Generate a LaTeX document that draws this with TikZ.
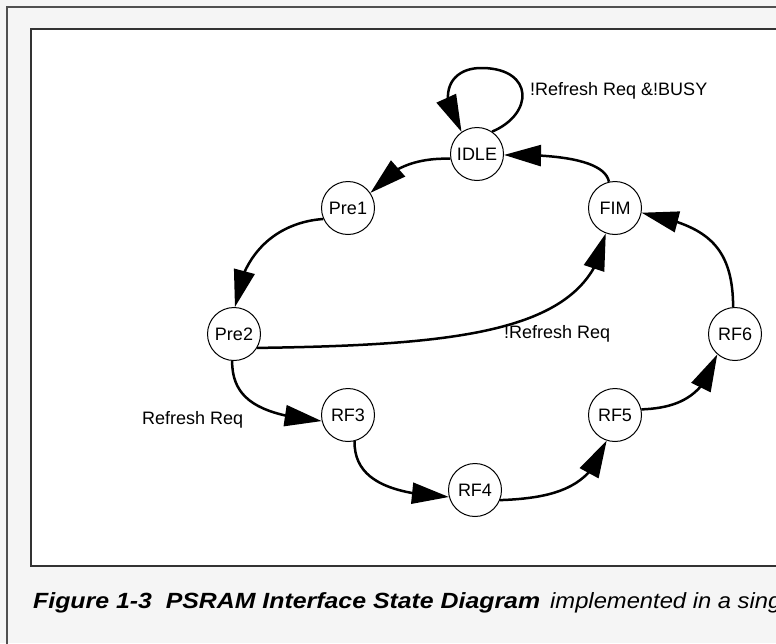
\documentclass[tikz,border=0pt]{standalone}
\usepackage{fontspec}
\setmainfont{Liberation Sans}
\usetikzlibrary{arrows.meta,bending}
\definecolor{pagegray}{HTML}{F5F5F5}
\definecolor{framegray}{HTML}{505050}
\begin{document}
\begin{tikzpicture}[x=1pt,y=-1pt,
  state/.style={circle,draw=black,line width=1pt,fill=white,minimum size=53pt,inner sep=0pt,font=\fontsize{18}{20}\selectfont},
  trans/.style={line width=2.5pt,-{Triangle[length=37pt,width=21pt,flex]}},
  lbl/.style={font=\fontsize{18}{20}\selectfont,inner sep=0pt}]
\useasboundingbox (0,0) rectangle (776,643);
\clip (0,0) rectangle (776,643);
\fill[pagegray] (0,0) rectangle (776,643);
\draw[framegray,line width=1.5pt] (7,650) -- (7,7) -- (790,7);
\draw[fill=white,draw=black!80,line width=1.3pt] (31,29) rectangle (800,566);

\node[state] (IDLE) at (477,154) {IDLE};
\node[state] (FIM)  at (615,208) {FIM};
\node[state] (Pre1) at (348,208) {Pre1};
\node[state] (Pre2) at (234,334) {Pre2};
\node[state] (RF3)  at (348,415) {RF3};
\node[state] (RF4)  at (475,490) {RF4};
\node[state] (RF5)  at (615,415) {RF5};
\node[state] (RF6)  at (735,334) {RF6};

\coordinate (looptop) at (483,68);
\draw[trans] (IDLE.56) .. controls (534,114) and (534,69) .. (looptop)
  .. controls (450,67) and (435,95) .. (IDLE.125);
\draw[trans] (IDLE.190) .. controls (420,158) and (392,165) .. (Pre1.34);
\draw[trans] (FIM.103) .. controls (605,162) and (565,154) .. (IDLE.358);
\draw[trans] (Pre1.204) .. controls (280,222) and (242,250) .. (Pre2.88);
\draw[trans] (Pre2.329) .. controls (470,345) and (590,330) .. (FIM.250);
\draw[trans] (Pre2.266) .. controls (232,400) and (260,415) .. (RF3.193);
\draw[trans] (RF3.284) .. controls (354,480) and (390,494) .. (RF4.195);
\draw[trans] (RF4.338) .. controls (560,498) and (592,485) .. (RF5.252);
\draw[trans] (RF5.12) .. controls (680,408) and (705,395) .. (RF6.229);
\draw[trans] (RF6.94) .. controls (733,240) and (700,225) .. (FIM.350);

\node[lbl,anchor=base west] (lbusy) at (530,95) {!Refresh Req \&!BUSY};
\node[lbl,anchor=base west] (lnref) at (504,338) {!Refresh Req};
\node[lbl,anchor=base west] (lref) at (142,424) {Refresh Req};

\node[anchor=base west,inner sep=0pt] (cap) at (33,608)
  {\fontsize{22}{24}\selectfont\bfseries\itshape\scalebox{1.13}[1]{Figure 1-3\ \ PSRAM Interface State Diagram}};
\node[anchor=base west,inner sep=0pt] (cap2) at (550,608)
  {\fontsize{22}{24}\selectfont\itshape\scalebox{1.08}[1]{implemented in a sing}};
\end{tikzpicture}
\end{document}
